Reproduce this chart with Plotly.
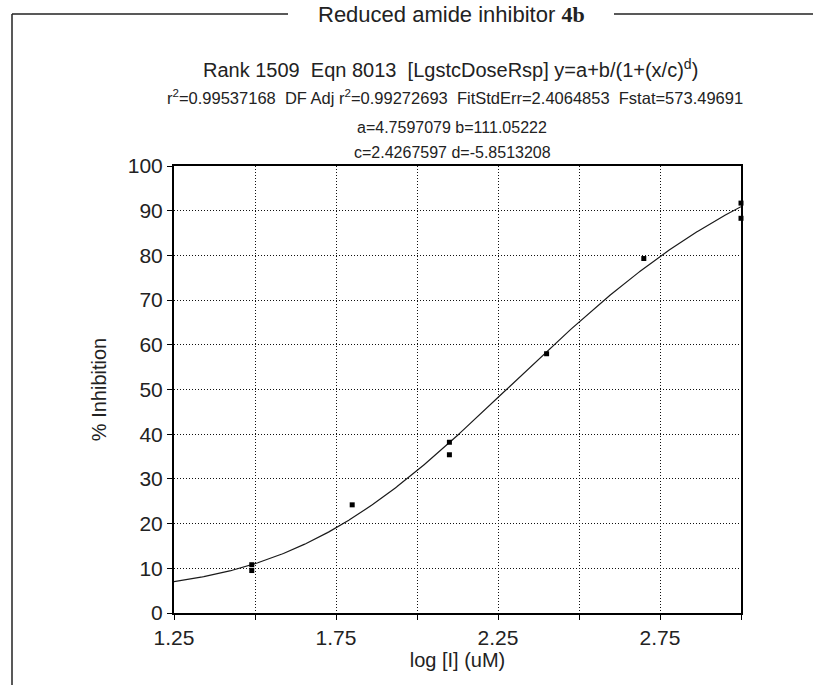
import numpy as np
import plotly.graph_objects as go

# Measured dose-response data (log concentration vs. % inhibition)
log_conc = [1.49, 1.49, 1.80, 2.10, 2.10, 2.40, 2.70, 3.00, 3.00]
inhibition = [10.8, 9.5, 24.2, 38.2, 35.4, 58.0, 79.3, 91.7, 88.3]

# Logistic dose-response fit parameters: y = a + b / (1 + (x/c)^d)
fit_a = 4.7597079
fit_b = 111.05222
fit_c = 2.4267597
fit_d = -5.8513208

x_ticks = [1.25, 1.5, 1.75, 2.0, 2.25, 2.5, 2.75, 3.0]
x_tick_text = ["1.25", "", "1.75", "", "2.25", "", "2.75", ""]
y_ticks = list(range(0, 101, 10))

W, H = 813, 685
L, R, T, B = 174, 72, 166, 72
PW, PH = W - L - R, H - T - B


def px(xp):
    return (xp - L) / PW


def py(yp):
    return (H - B - yp) / PH


xs = np.linspace(1.25, 3.0, 400)
ys = fit_a + fit_b / (1 + (xs / fit_c) ** fit_d)

fig = go.Figure()
fig.add_trace(go.Scatter(x=xs, y=ys, mode="lines",
                         line=dict(color="#1a1a1a", width=1.2),
                         hoverinfo="skip", showlegend=False))
fig.add_trace(go.Scatter(x=log_conc, y=inhibition, mode="markers",
                         marker=dict(symbol="square", size=5, color="black"),
                         showlegend=False, cliponaxis=False))

font = "Arial, Liberation Sans, sans-serif"
axis_common = dict(showline=True, linecolor="black", linewidth=2, mirror=True,
                   ticks="outside", ticklen=5, tickcolor="black",
                   showgrid=True, gridcolor="#111111", griddash="1px,2px", gridwidth=1,
                   zeroline=False, tickfont=dict(family=font, size=21, color="#222222"),
                   title_font=dict(family=font, size=20, color="#222222"))

fig.update_xaxes(range=[1.25, 3.0], tickvals=x_ticks, ticktext=x_tick_text,
                 title_text="log [I] (uM)", title_standoff=3, **axis_common)
fig.update_yaxes(range=[0, 100], tickvals=y_ticks,
                 title_text="% Inhibition", title_standoff=16, **axis_common)

# Frame around the whole panel, broken at the top by the heading
frame = dict(type="line", xref="paper", yref="paper",
             line=dict(color="#222222", width=1.5))
fig.add_shape(x0=px(12), x1=px(12), y0=py(14), y1=py(H + 5), **frame)
fig.add_shape(x0=px(12), x1=px(288), y0=py(14), y1=py(14), **frame)
fig.add_shape(x0=px(614), x1=px(W + 5), y0=py(14), y1=py(14), **frame)

annotations = [
    ('Reduced amide inhibitor <b><span style="font-family:Liberation Serif">4b</span></b>',
     451, 14, 22),
    ("Rank 1509  Eqn 8013  [LgstcDoseRsp] y=a+b/(1+(x/c)<sup>d</sup>)", 450, 68, 20),
    ("r<sup>2</sup>=0.99537168  DF Adj r<sup>2</sup>=0.99272693  FitStdErr=2.4064853  Fstat=573.49691",
     455, 97, 16.5),
    ("a=4.7597079 b=111.05222", 452, 127, 16),
    ("c=2.4267597 d=-5.8513208", 452, 152, 16),
]
for text, xpix, ypix, size in annotations:
    fig.add_annotation(text=text, xref="paper", yref="paper", x=px(xpix), y=py(ypix),
                       xanchor="center", yanchor="middle", showarrow=False,
                       font=dict(family=font, size=size, color="#222222"))

fig.update_layout(width=W, height=H, margin=dict(l=L, r=R, t=T, b=B),
                  paper_bgcolor="white", plot_bgcolor="white")

fig.write_html("out.html")
